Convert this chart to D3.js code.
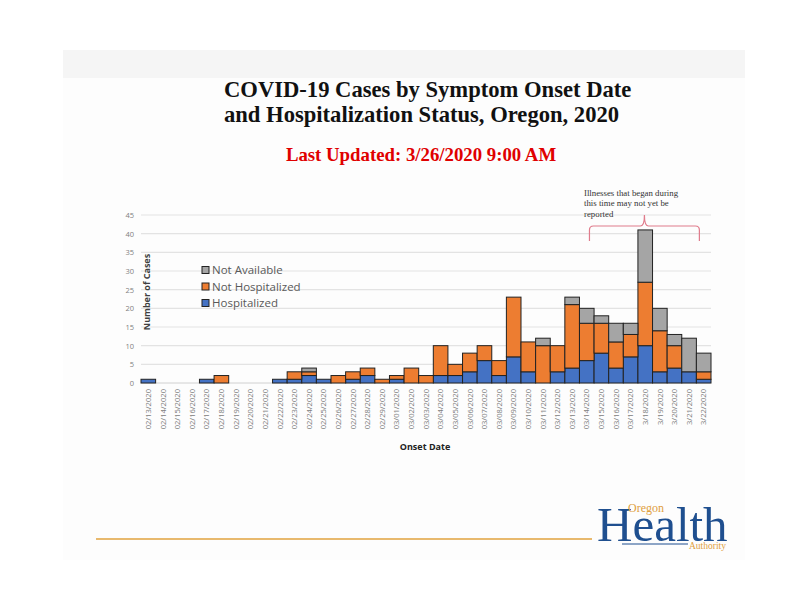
<!DOCTYPE html>
<html>
<head>
<meta charset="utf-8">
<script src="https://cdn.jsdelivr.net/npm/d3@7"></script>
<style>
  body { margin: 0; background: #fff; }
  svg { display: block; }
</style>
</head>
<body>
<div id="container"></div>
<script>
// onset dates, one bar each
var dates = ["02/13/2020","02/14/2020","02/15/2020","02/16/2020","02/17/2020","02/18/2020",
  "02/19/2020","02/20/2020","02/21/2020","02/22/2020","02/23/2020","02/24/2020","02/25/2020",
  "02/26/2020","02/27/2020","02/28/2020","02/29/2020","03/01/2020","03/02/2020","03/03/2020",
  "03/04/2020","03/05/2020","03/06/2020","03/07/2020","03/08/2020","03/09/2020","03/10/2020",
  "03/11/2020","03/12/2020","03/13/2020","03/14/2020","03/15/2020","03/16/2020","03/17/2020",
  "3/18/2020","3/19/2020","3/20/2020","3/21/2020","3/22/2020"];

var hospitalized     = [1,0,0,0,1,0,0,0,0,1,1,2,1,0,1,2,0,1,0,0,2,2,3,6,2,7,3,0,3,4,6,8,4,7,10,3,4,3,1];
var not_hospitalized = [0,0,0,0,0,2,0,0,0,0,2,1,0,2,2,2,1,1,4,2,8,3,5,4,4,16,8,10,7,17,10,8,7,6,17,11,6,0,2];
var not_available    = [0,0,0,0,0,0,0,0,0,0,0,1,0,0,0,0,0,0,0,0,0,0,0,0,0,0,0,2,0,2,4,2,5,3,14,6,3,9,5];

var y_ticks = [0,5,10,15,20,25,30,35,40,45];

var series_keys = ["Hospitalized","Not Hospitalized","Not Available"];
var colors = { "Hospitalized": "#4472c4", "Not Hospitalized": "#ed7d31", "Not Available": "#a5a5a5" };

var W = 800, H = 600;

var svg = d3.select("#container").append("svg")
    .attr("width", W)
    .attr("height", H);

// slide background
svg.append("rect").attr("x", 63).attr("y", 50).attr("width", 682).attr("height", 510)
    .style("fill", "#fdfdfd");
svg.append("rect").attr("x", 63).attr("y", 50).attr("width", 682).attr("height", 28)
    .style("fill", "#f5f5f5");

// titles
var title = svg.append("text")
    .style("font-family", "'Liberation Serif', 'Times New Roman', serif")
    .style("font-weight", "bold")
    .style("font-size", "22.6px")
    .style("fill", "#111");
title.append("tspan").attr("x", 224).attr("y", 97).text("COVID-19 Cases by Symptom Onset Date");
title.append("tspan").attr("x", 224).attr("y", 122).text("and Hospitalization Status, Oregon, 2020");

svg.append("text")
    .attr("x", 421).attr("y", 161)
    .attr("text-anchor", "middle")
    .style("font-family", "'Liberation Serif', 'Times New Roman', serif")
    .style("font-weight", "bold")
    .style("font-size", "18.8px")
    .style("fill", "#e00000")
    .text("Last Updated: 3/26/2020 9:00 AM");

// chart
var data = dates.map(function(d, i){
    return { date: d,
             "Hospitalized": hospitalized[i],
             "Not Hospitalized": not_hospitalized[i],
             "Not Available": not_available[i] };
});

var x = d3.scaleBand()
    .domain(dates)
    .range([141, 711])
    .padding(0);

var y = d3.scaleLinear()
    .domain([0, 45])
    .range([383, 215]);

var g = svg.append("g");

// gridlines
g.selectAll("line.grid")
    .data(y_ticks.filter(function(t){ return t > 0; }))
    .enter().append("line")
    .classed("grid", true)
    .attr("x1", 141).attr("x2", 711)
    .attr("y1", function(t){ return y(t); })
    .attr("y2", function(t){ return y(t); })
    .style("stroke", "#e3e3e3")
    .style("stroke-width", 1.2);

g.append("line")
    .attr("x1", 141).attr("x2", 711)
    .attr("y1", y(0)).attr("y2", y(0))
    .style("stroke", "#d0d0d0");

// y tick labels
var yAxis = d3.axisLeft(y).tickValues(y_ticks).tickSize(0).tickPadding(0);
var ya = g.append("g").attr("transform", "translate(134,0)").call(yAxis);
ya.select(".domain").remove();
ya.selectAll("text")
    .style("font-family", "'Open Sans', sans-serif")
    .style("font-size", "7.5px")
    .style("fill", "#7f7f7f");

// stacked bars
var stacked = d3.stack().keys(series_keys)(data);

g.selectAll("g.layer")
    .data(stacked)
    .enter().append("g")
    .classed("layer", true)
    .style("fill", function(s){ return colors[s.key]; })
    .selectAll("rect")
    .data(function(s){ return s.filter(function(a){ return a[1] - a[0] > 0; }); })
    .enter().append("rect")
    .attr("x", function(a){ return x(a.data.date); })
    .attr("width", x.bandwidth())
    .attr("y", function(a){ return y(a[1]); })
    .attr("height", function(a){ return y(a[0]) - y(a[1]); })
    .style("stroke", "#222")
    .style("stroke-width", 1);

// x labels
var xAxis = d3.axisBottom(x).tickSize(0).tickPadding(0);
var xa = g.append("g").attr("transform", "translate(0,389)").call(xAxis);
xa.select(".domain").remove();
xa.selectAll("text")
    .attr("transform", "rotate(-90)")
    .attr("text-anchor", "end")
    .attr("x", 0)
    .attr("y", 0)
    .attr("dy", "0.35em")
    .style("font-family", "'Open Sans', sans-serif")
    .style("font-size", "7.6px")
    .style("fill", "#808080");

// axis titles
svg.append("text")
    .attr("transform", "translate(150,292) rotate(-90)")
    .attr("text-anchor", "middle")
    .style("font-family", "'Open Sans', sans-serif")
    .style("font-weight", "bold")
    .style("font-size", "9px")
    .style("fill", "#404040")
    .text("Number of Cases");

svg.append("text")
    .attr("x", 425).attr("y", 450)
    .attr("text-anchor", "middle")
    .style("font-family", "'Open Sans', sans-serif")
    .style("font-weight", "bold")
    .style("font-size", "9px")
    .style("fill", "#222")
    .text("Onset Date");

// legend
var legend = svg.append("g").attr("transform", "translate(202,270)");
var leg = legend.selectAll("g")
    .data(series_keys.slice().reverse())
    .enter().append("g")
    .attr("transform", function(d, i){ return "translate(0," + i * 16.5 + ")"; });
leg.append("rect")
    .attr("x", 0).attr("y", -3.5)
    .attr("width", 7).attr("height", 7)
    .style("fill", function(d){ return colors[d]; })
    .style("stroke", "#222");
leg.append("text")
    .attr("x", 10).attr("y", 0).attr("dy", "0.35em")
    .style("font-family", "'Open Sans', sans-serif")
    .style("font-size", "11.5px")
    .style("fill", "#595959")
    .text(function(d){ return d; });

// annotation
var note = svg.append("text")
    .style("font-family", "'Liberation Serif', 'Times New Roman', serif")
    .style("font-size", "8.8px")
    .style("fill", "#333");
["Illnesses that began during", "this time may not yet be", "reported"].forEach(function(t, i){
    note.append("tspan").attr("x", 584).attr("y", 195.5 + i * 10.5).text(t);
});

var bx1 = x("03/14/2020") + 10, bx2 = x("3/22/2020") + 3, bmid = (bx1 + bx2) / 2;
svg.append("path")
    .attr("d", "M" + bx1 + ",241 L" + bx1 + ",230 Q" + bx1 + ",226 " + (bx1 + 4) + ",226 L" + (bmid - 4) + ",226 Q" + bmid + ",226 " + bmid + ",215" +
               " Q" + bmid + ",226 " + (bmid + 4) + ",226 L" + (bx2 - 4) + ",226 Q" + bx2 + ",226 " + bx2 + ",230 L" + bx2 + ",241")
    .style("fill", "none")
    .style("stroke", "#e07c8c")
    .style("stroke-width", 1.2);

// footer line and logo
svg.append("line")
    .attr("x1", 96).attr("x2", 592).attr("y1", 539).attr("y2", 539)
    .style("stroke", "#e8b96e")
    .style("stroke-width", 2);

svg.append("text")
    .attr("x", 597).attr("y", 541)
    .style("font-family", "'Liberation Serif', 'Times New Roman', serif")
    .style("font-size", "49px")
    .style("fill", "#1f4f8f")
    .text("Health");
svg.append("text")
    .attr("x", 628).attr("y", 512)
    .style("font-family", "'Liberation Serif', 'Times New Roman', serif")
    .style("font-size", "12px")
    .style("fill", "#e0a040")
    .text("Oregon");
svg.append("text")
    .attr("x", 689).attr("y", 549)
    .style("font-family", "'Liberation Serif', 'Times New Roman', serif")
    .style("font-size", "9.5px")
    .style("fill", "#e0a040")
    .text("Authority");
svg.append("line")
    .attr("x1", 622).attr("x2", 688).attr("y1", 544).attr("y2", 544)
    .style("stroke", "#1f4f8f")
    .style("stroke-width", 1.2);
</script>
</body>
</html>
